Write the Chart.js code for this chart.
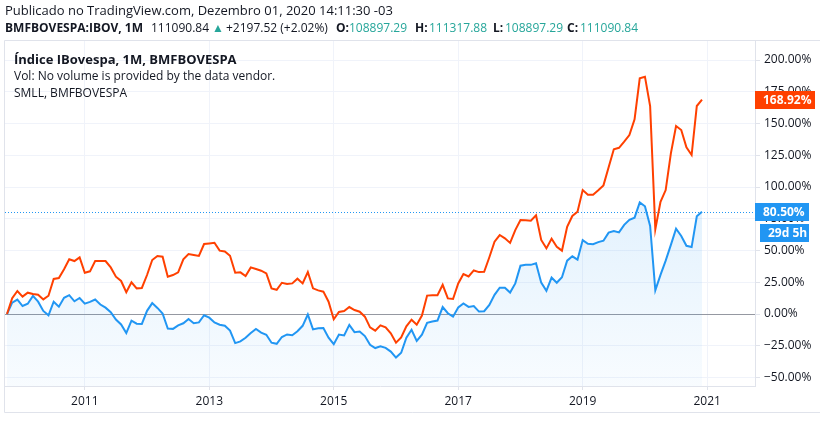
<!DOCTYPE html>
<html>
<head>
<meta charset="utf-8">
<script src="https://cdn.jsdelivr.net/npm/chart.js@4/dist/chart.umd.min.js"></script>
<style>
  html,body{margin:0;padding:0;background:#fff;}
  #wrap{position:relative;width:820px;height:422px;overflow:hidden;font-family:"Open Sans",sans-serif;color:#131722;}
  canvas{position:absolute;left:0;top:0;}
  .t{position:absolute;white-space:nowrap;font-size:13px;line-height:16px;height:16px;}
  .s{font-size:12px;}
  .b{font-weight:bold;}
  .g{color:#26a69a;}
</style>
</head>
<body>
<div id="wrap">
  <canvas id="c" width="820" height="422"></canvas>
  <div class="t" style="left:5px;top:2px;">Publicado no TradingView.com, Dezembro 01, 2020 14:11:30 -03</div>
  <div class="t s b" style="left:5px;top:20px;">BMFBOVESPA:IBOV, 1M</div>
  <div class="t s" style="left:151px;top:20px;">111090.84</div>
  <div class="t g" style="left:212px;top:20px;font-size:12px;">&#9650;</div>
  <div class="t s" style="left:226px;top:20px;">+2197.52 (+2.02%)</div>
  <div class="t s b" style="left:336px;top:20px;">O:</div>
  <div class="t s g" style="left:349px;top:20px;">108897.29</div>
  <div class="t s b" style="left:415px;top:20px;">H:</div>
  <div class="t s g" style="left:429px;top:20px;">111317.88</div>
  <div class="t s b" style="left:493px;top:20px;">L:</div>
  <div class="t s g" style="left:505px;top:20px;">108897.29</div>
  <div class="t s b" style="left:567px;top:20px;">C:</div>
  <div class="t s g" style="left:580px;top:20px;">111090.84</div>
  <div class="t b" style="left:14px;top:51px;">Índice IBovespa, 1M, BMFBOVESPA</div>
  <div class="t s" style="left:14px;top:68px;">Vol: No volume is provided by the data vendor.</div>
  <div class="t s" style="left:14px;top:85px;">SMLL, BMFBOVESPA</div>
</div>
<script>
// Monthly closes, Oct 2009 .. Dec 2020, % change from Oct 2009
const startMonth = '2009-10';
const ibov = [
  0, 8.9, 11.4,
  6.3, 8.1, 14.3, 9.7, 2.4, -1.0, 9.7, 5.8, 12.8, 14.8, 10.0, 12.6,
  8.2, 9.5, 11.4, 7.5, 5.0, 1.4, -4.4, -8.2, -15.0, -5.2, -7.6, -7.8,
  2.5, 8.6, 4.8, 0.4, -11.5, -11.7, -8.9, -7.3, -3.9, -7.3, -6.6, -1.0,
  -2.9, -6.7, -8.4, -9.2, -13.1, -22.9, -21.6, -18.7, -15.0, -11.8, -14.7, -16.3,
  -22.6, -23.5, -18.1, -16.1, -16.7, -13.6, -9.3, -0.4, -12.1, -11.2, -11.1, -18.7,
  -23.8, -16.2, -16.9, -8.6, -14.3, -13.8, -17.4, -24.2, -26.8, -25.5, -26.7, -29.6,
  -34.3, -30.5, -18.7, -12.4, -21.2, -16.3, -6.9, -5.9, -5.2, 5.5, 0.6, -2.1,
  5.1, 8.3, 5.6, 6.3, 1.9, 2.2, 7.1, 15.1, 20.7, 20.7, 16.9, 24.1,
  38.0, 38.7, 38.7, 39.9, 24.7, 18.2, 28.7, 24.6, 28.9, 42.0, 45.4, 42.8,
  58.2, 55.3, 55.0, 56.6, 57.7, 64.1, 65.4, 64.3, 70.2, 74.2, 75.9, 87.9,
  84.8, 69.3, 18.6, 30.8, 42.0, 54.4, 67.2, 61.5, 53.7, 52.7, 76.9, 80.5
];
const smll = [
  0, 12.4, 18.1,
  13.7, 16.8, 15.7, 15.2, 11.5, 14.4, 27.6, 28.3, 35.2, 43.1, 41.7, 44.6,
  32.5, 33.6, 41.7, 41.7, 41.7, 36.7, 29.4, 26.0, 17.1, 25.0, 20.2, 20.5,
  30.7, 42.5, 45.7, 45.1, 29.4, 30.7, 32.8, 43.1, 47.2, 46.5, 45.7, 55.1,
  55.6, 56.1, 49.9, 49.3, 45.9, 32.5, 32.8, 29.9, 36.7, 35.4, 34.1, 32.0,
  20.2, 19.1, 24.6, 23.6, 24.1, 27.8, 24.1, 33.1, 20.2, 18.6, 17.6, 9.7,
  -4.2, 1.6, 2.4, 5.5, 3.1, 1.8, -2.1, -10.5, -13.1, -8.9, -10.5, -15.2,
  -22.6, -18.5, -9.7, -4.5, -8.4, -1.2, 14.5, 14.7, 14.8, 23.0, 12.3, 11.8,
  24.1, 31.5, 29.6, 34.3, 33.0, 33.2, 44.7, 56.9, 62.2, 59.6, 56.0, 66.1,
  74.0, 73.8, 73.5, 77.7, 58.3, 51.7, 59.3, 53.0, 49.9, 68.7, 77.2, 80.6,
  97.6, 93.9, 93.9, 97.4, 101.3, 115.5, 129.7, 130.9, 135.7, 140.9, 153.3, 185.6,
  186.9, 163.8, 66.7, 88.4, 97.6, 126.5, 148.0, 144.9, 131.2, 125.2, 163.8, 168.92
];
const yearLabels = ['2011', '2013', '2015', '2017', '2019', '2021'];
const yearMonthIdx = [15, 39, 63, 87, 111, 135];   // January of each labelled year
const yTicks = [-50, -25, 0, 25, 50, 75, 100, 125, 150, 175, 200];
const lastLabels = {smll: '168.92%', ibov: '80.50%', countdown: '29d 5h'};

const BLUE = '#2196f3', ORANGE = '#ff4000', GRID = '#f0f3fa', BORDER = '#e0e3eb';

const toXY = arr => arr.map((v, i) => ({x: i, y: v}));

const framePlugin = {
  id: 'frame',
  beforeDraw(chart) {
    const c = chart.ctx;
    c.save();
    c.fillStyle = '#fff';
    c.fillRect(0, 0, chart.width, chart.height);
    c.restore();
  },
  beforeDatasetsDraw(chart) {
    const c = chart.ctx, a = chart.chartArea, y = chart.scales.y;
    const py = Math.round(y.getPixelForValue(ibov[ibov.length - 1])) + 0.5;
    c.save();
    c.strokeStyle = BLUE;
    c.lineWidth = 1;
    c.setLineDash([1, 2]);
    c.beginPath();
    c.moveTo(a.left, py);
    c.lineTo(a.right, py);
    c.stroke();
    c.restore();
  },
  afterDraw(chart) {
    const c = chart.ctx, a = chart.chartArea, y = chart.scales.y;
    c.save();
    c.strokeStyle = BORDER;
    c.lineWidth = 1;
    c.beginPath();
    c.moveTo(a.left - 0.5, 412.5);
    c.lineTo(a.left - 0.5, a.top - 0.5);
    c.lineTo(chart.width, a.top - 0.5);
    c.moveTo(a.left - 0.5, 412.5);
    c.lineTo(chart.width, 412.5);
    c.stroke();
    c.font = 'bold 12px "Open Sans", sans-serif';
    c.textBaseline = 'middle';
    c.textAlign = 'left';
    const drawBox = (x0, x1, yc, bg, txt) => {
      c.fillStyle = bg;
      c.fillRect(x0, Math.round(yc - 9), x1 - x0, 18);
      c.fillStyle = '#fff';
      c.fillText(txt, x0 + 8, Math.round(yc) + 0.5);
    };
    const ys = y.getPixelForValue(smll[smll.length - 1]);
    drawBox(a.right, 815, ys, ORANGE, lastLabels.smll);
    const yi = y.getPixelForValue(ibov[ibov.length - 1]);
    drawBox(a.right, 809, yi, BLUE, lastLabels.ibov);
    drawBox(a.right + 5, 809, yi + 21, BLUE, lastLabels.countdown);
    c.restore();
  }
};

new Chart(document.getElementById('c'), {
  type: 'line',
  data: {
    datasets: [
      {
        label: 'SMLL',
        data: toXY(smll),
        borderColor: ORANGE,
        borderWidth: 2,
        pointRadius: 0,
        fill: false,
        tension: 0
      },
      {
        label: 'IBOV',
        data: toXY(ibov),
        borderColor: BLUE,
        borderWidth: 2,
        pointRadius: 0,
        tension: 0,
        fill: 'start',
        backgroundColor: (ctx) => {
          const ch = ctx.chart, a = ch.chartArea;
          if (!a) return 'rgba(33,150,243,0.08)';
          const g = ch.ctx.createLinearGradient(0, ch.scales.y.getPixelForValue(90), 0, a.bottom);
          g.addColorStop(0, 'rgba(33,150,243,0.13)');
          g.addColorStop(1, 'rgba(33,150,243,0.03)');
          return g;
        }
      }
    ]
  },
  options: {
    responsive: false,
    animation: false,
    devicePixelRatio: 1,
    layout: {padding: {top: 41, left: 5, right: 0, bottom: 10}},
    plugins: {legend: {display: false}, tooltip: {enabled: false}},
    scales: {
      x: {
        type: 'linear',
        min: -0.386,
        max: 144.22,
        afterFit: s => { s.height = 26; },
        afterBuildTicks: s => { s.ticks = yearMonthIdx.map(v => ({value: v})); },
        ticks: {
          callback: (v) => yearLabels[yearMonthIdx.indexOf(v)],
          color: '#131722',
          font: {family: '"Open Sans", sans-serif', size: 12},
          maxRotation: 0,
          autoSkip: false,
          padding: 4
        },
        grid: {color: GRID, tickColor: BORDER, tickLength: 4, drawTicks: true},
        border: {display: true, color: BORDER}
      },
      y: {
        position: 'right',
        min: -56.7,
        max: 215,
        afterFit: s => { s.width = 65; },
        afterBuildTicks: s => { s.ticks = yTicks.map(v => ({value: v})); },
        ticks: {
          callback: v => (v < 0 ? '\u2212' + Math.abs(v).toFixed(2) : v.toFixed(2)) + '%',
          color: '#131722',
          font: {family: '"Open Sans", sans-serif', size: 12},
          padding: 4
        },
        grid: {
          color: ctx => (ctx.tick && ctx.tick.value === 0) ? '#9598a1' : GRID,
          tickColor: BORDER,
          tickLength: 5
        },
        border: {display: true, color: BORDER}
      }
    }
  },
  plugins: [framePlugin]
});
</script>
</body>
</html>
